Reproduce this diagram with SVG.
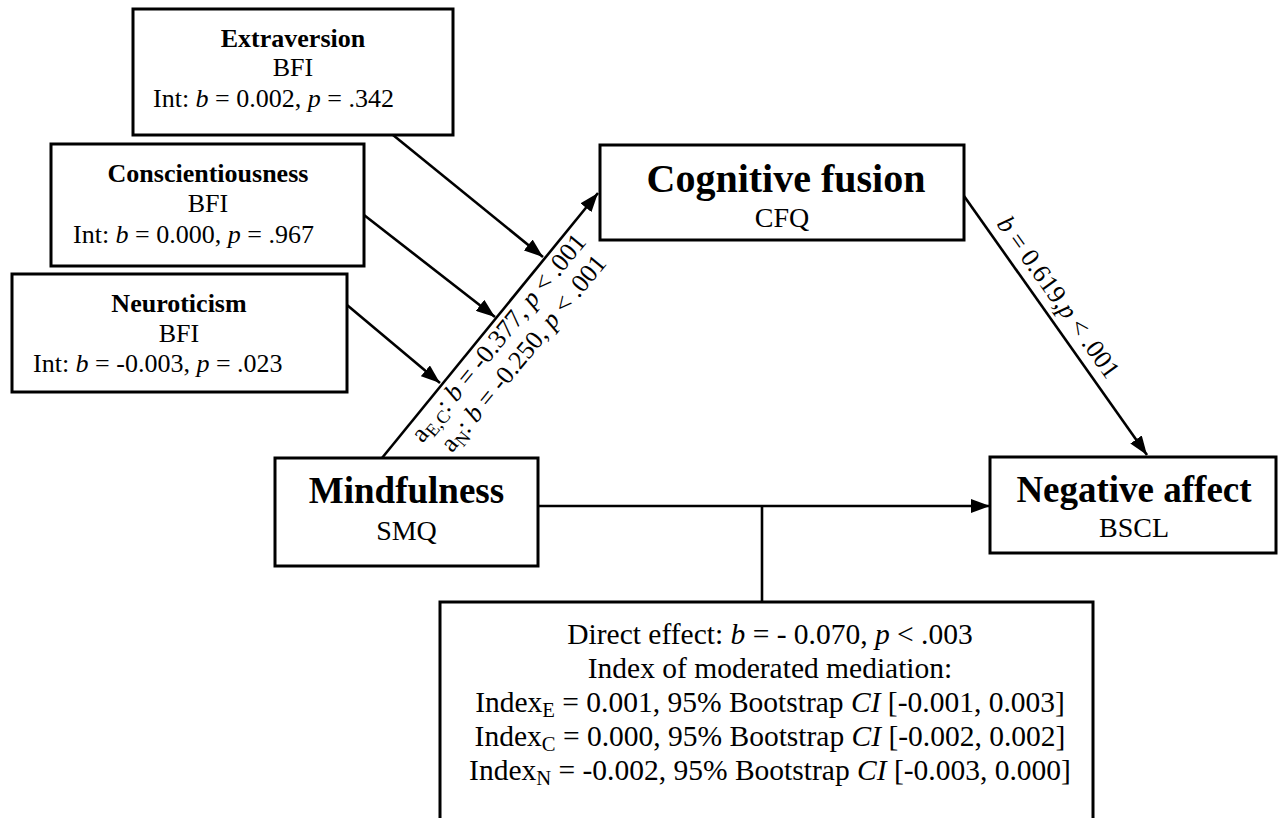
<svg xmlns="http://www.w3.org/2000/svg" width="1280" height="818" viewBox="0 0 1280 818">
<defs>
<style>
text{font-family:"Liberation Serif","Times New Roman",serif;fill:#000;}
.box{fill:#fff;stroke:#000;stroke-width:3;}
.c{text-anchor:middle;}
.h{font-weight:bold;font-size:26px;}
.t{font-size:26px;}
.sub{font-size:28px;}
.m{font-size:29.5px;}
.i{font-style:italic;}
.s{font-size:0.7em;}
.edge{stroke:#000;stroke-width:2.6;fill:none;}
</style>
<marker id="ah" markerUnits="userSpaceOnUse" markerWidth="20" markerHeight="14" refX="19" refY="7" orient="auto">
<path d="M0,0 L19,7 L0,14 z" fill="#000"/>
</marker>
</defs>
<rect width="1280" height="818" fill="#fff"/>

<g id="connectors">
<line class="edge" x1="382" y1="458" x2="598" y2="193" marker-end="url(#ah)"/>
<line class="edge" x1="393" y1="135" x2="543" y2="257" marker-end="url(#ah)"/>
<line class="edge" x1="364" y1="215" x2="495" y2="317" marker-end="url(#ah)"/>
<line class="edge" x1="347" y1="305" x2="440" y2="383" marker-end="url(#ah)"/>
<line class="edge" x1="964" y1="196" x2="1147" y2="455" marker-end="url(#ah)"/>
<line class="edge" x1="538" y1="506" x2="990" y2="506" marker-end="url(#ah)"/>
<line class="edge" x1="762" y1="506" x2="762" y2="602"/>
<text class="t" transform="translate(422.6,443.7) rotate(-50.7)">a<tspan class="s" dy="5">E,C</tspan><tspan dy="-5">: </tspan><tspan class="i">b</tspan> = -0.377, <tspan class="i">p</tspan> &lt; .001</text>
<text class="t" transform="translate(452,453.5) rotate(-50.7)">a<tspan class="s" dy="5">N</tspan><tspan dy="-5">: </tspan><tspan class="i">b</tspan> = -0.250, <tspan class="i">p</tspan> &lt; .001</text>
<text class="t" transform="translate(996,224) rotate(54.6)"><tspan class="i">b</tspan> = 0.619,<tspan class="i">p</tspan> &lt; .001</text>
</g>

<g id="extraversion">
<rect class="box" x="133" y="9" width="320" height="126"/>
<text class="h c" x="293" y="47">Extraversion</text>
<text class="t c" x="293" y="76">BFI</text>
<text class="t" x="153" y="107">Int: <tspan class="i">b</tspan> = 0.002, <tspan class="i">p</tspan> = .342</text>
</g>

<g id="conscientiousness">
<rect class="box" x="51" y="144" width="313" height="122"/>
<text class="h c" x="208" y="182">Conscientiousness</text>
<text class="t c" x="208" y="212">BFI</text>
<text class="t" x="73" y="243">Int: <tspan class="i">b</tspan> = 0.000, <tspan class="i">p</tspan> = .967</text>
</g>

<g id="neuroticism">
<rect class="box" x="12" y="274" width="335" height="118"/>
<text class="h c" x="179" y="312">Neuroticism</text>
<text class="t c" x="179" y="342">BFI</text>
<text class="t" x="33" y="372">Int: <tspan class="i">b</tspan> = -0.003, <tspan class="i">p</tspan> = .023</text>
</g>

<g id="cognitive-fusion">
<rect class="box" x="600" y="145" width="364" height="95"/>
<text class="c" x="786" y="192" style="font-weight:bold;font-size:40px">Cognitive fusion</text>
<text class="sub c" x="782" y="227">CFQ</text>
</g>

<g id="mindfulness">
<rect class="box" x="275" y="458" width="263" height="108"/>
<text class="c" x="406.5" y="503" style="font-weight:bold;font-size:37px">Mindfulness</text>
<text class="sub c" x="406.5" y="540">SMQ</text>
</g>

<g id="negative-affect">
<rect class="box" x="990" y="457" width="286" height="96"/>
<text class="c" x="1134" y="502" style="font-weight:bold;font-size:37px">Negative affect</text>
<text class="sub c" x="1134" y="537">BSCL</text>
</g>

<g id="effects">
<rect class="box" x="440" y="602" width="653" height="240"/>
<text class="m c" x="770" y="644">Direct effect: <tspan class="i">b</tspan> = - 0.070, <tspan class="i">p</tspan> &lt; .003</text>
<text class="m c" x="770" y="678">Index of moderated mediation:</text>
<text class="m c" x="770" y="712">Index<tspan class="s" dy="5">E</tspan><tspan dy="-5"> = 0.001, 95% Bootstrap </tspan><tspan class="i">CI</tspan> [-0.001, 0.003]</text>
<text class="m c" x="770" y="746">Index<tspan class="s" dy="5">C</tspan><tspan dy="-5"> = 0.000, 95% Bootstrap </tspan><tspan class="i">CI</tspan> [-0.002, 0.002]</text>
<text class="m c" x="770" y="780">Index<tspan class="s" dy="5">N</tspan><tspan dy="-5"> = -0.002, 95% Bootstrap </tspan><tspan class="i">CI</tspan> [-0.003, 0.000]</text>
</g>
</svg>
